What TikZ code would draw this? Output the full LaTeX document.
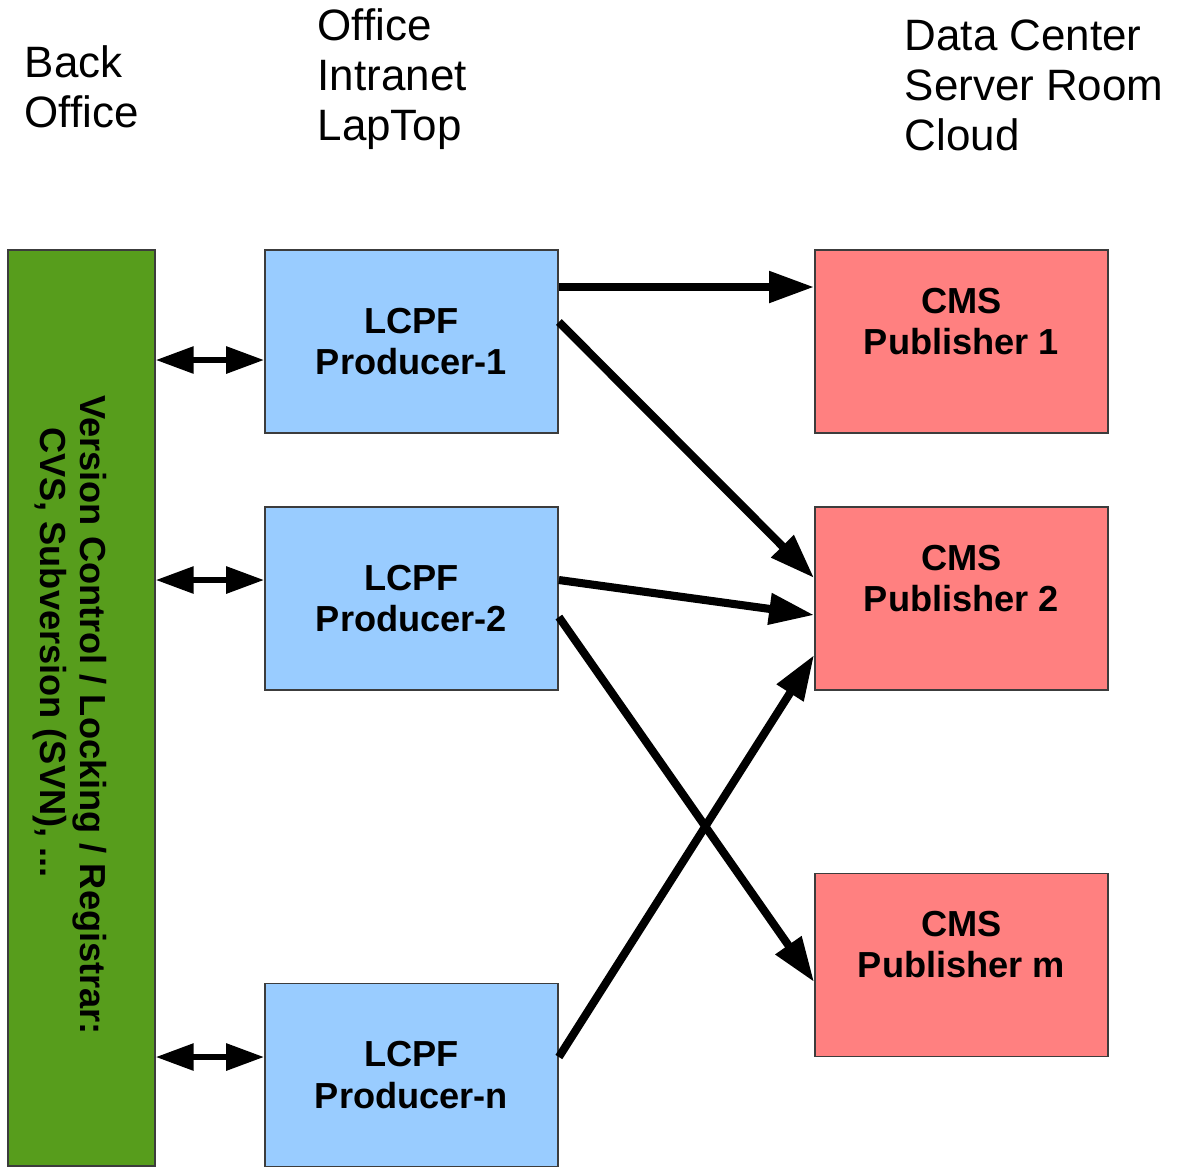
\documentclass[tikz,border=0pt]{standalone}
\usepackage{fontspec}
\setmainfont{Liberation Sans}
\usetikzlibrary{arrows.meta}
\definecolor{vcgreen}{HTML}{579D1C}
\definecolor{prodblue}{HTML}{99CCFF}
\definecolor{cmsred}{HTML}{FF8080}
\definecolor{edgegray}{HTML}{3C3C3C}

\begin{document}
\begin{tikzpicture}[
		box/.style={rectangle, draw=edgegray, line width=0.5pt, minimum width=2.93cm, minimum height=1.83cm, align=center, font=\fontsize{10.3}{11.7}\selectfont\bfseries},
		producer/.style={box, fill=prodblue},
		publisher/.style={box, fill=cmsred},
		flow/.style={line width=2.3pt, -{Triangle[length=4.5mm, width=3mm]}},
		sync/.style={line width=1.7pt, {Triangle[length=3.8mm, width=2.6mm]}-{Triangle[length=3.8mm, width=2.6mm]}},
		heading/.style={align=left, inner sep=0pt, anchor=west, font=\fontsize{12.5}{14.2}\selectfont}]

		\useasboundingbox (0,0) rectangle (11.78,-11.68);

		% 見出し
		\node[heading] (back) at (0.24,-0.87) {Back\\Office};
		\node[heading] (office) at (3.17,-0.79) {Office\\Intranet\\LapTop};
		\node[heading] (center) at (9.04,-0.85) {Data Center\\Server Room\\Cloud};

		% バージョン管理
		\node[rectangle, draw=edgegray, fill=vcgreen, minimum width=1.47cm, minimum height=9.16cm] (vc) at (0.815,-7.08) {};
		\node[rotate=-90, align=left, inner sep=0pt, font=\fontsize{10.3}{11.4}\selectfont\bfseries] (vclabel) at (0.70,-7.15) {Version Control / Locking / Registrar:\\\hspace*{3.2mm}CVS, Subversion (SVN), ...};

		\node[producer] (p1) at (4.115,-3.415) {LCPF\\Producer-1};
		\node[producer] (p2) at (4.115,-5.985) {LCPF\\Producer-2};
		\node[producer] (pn) at (4.115,-10.75) {LCPF\\Producer-n};

		% 文字は少し上に
		\node[publisher] (c1) at (9.615,-3.415) {CMS\\Publisher 1\\\mbox{}};
		\node[publisher] (c2) at (9.615,-5.985) {CMS\\Publisher 2\\\mbox{}};
		\node[publisher] (cm) at (9.615,-9.65) {CMS\\Publisher m\\\mbox{}};

		% 双方向の矢印
		\coordinate (s1) at ([yshift=-1.85mm]p1.west);
		\coordinate (s2) at ([yshift=1.85mm]p2.west);
		\coordinate (sn) at ([yshift=1.8mm]pn.west);
		\draw[sync] (vc.east |- s1) -- (s1);
		\draw[sync] (vc.east |- s2) -- (s2);
		\draw[sync] (vc.east |- sn) -- (sn);

		% 公開の矢印
		\draw[flow] ([yshift=5.45mm]p1.east) -- ([yshift=5.45mm]c1.west);
		\draw[flow] ([yshift=1.95mm]p1.east) -- ([yshift=2.05mm]c2.west);
		\draw[flow] ([yshift=1.85mm]p2.east) -- ([yshift=-1.65mm]c2.west);
		\draw[flow] ([yshift=-1.85mm]p2.east) -- ([yshift=-1.7mm]cm.west);
		\draw[flow] ([yshift=1.8mm]pn.east) -- ([yshift=-5.65mm]c2.west);
	\end{tikzpicture}
\end{document}
